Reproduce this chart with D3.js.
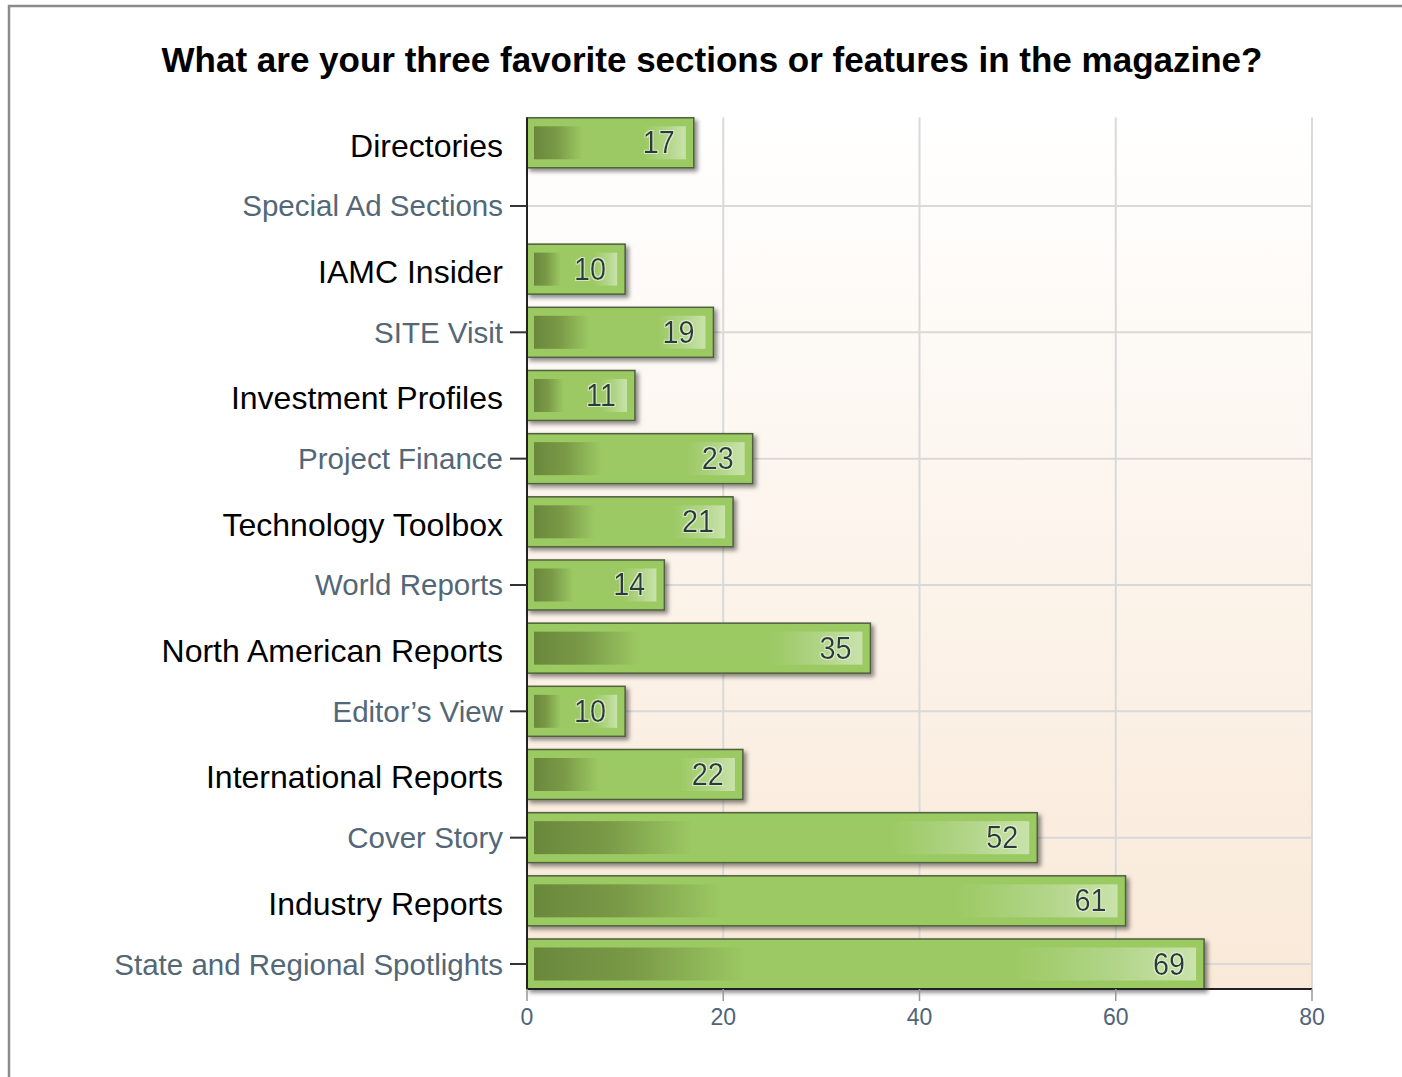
<!DOCTYPE html>
<html>
<head>
<meta charset="utf-8">
<script src="https://cdn.jsdelivr.net/npm/d3@7"></script>
<style>
  html, body { margin: 0; padding: 0; background: #ffffff; }
  svg { display: block; }
</style>
</head>
<body>
<script>
const title = "What are your three favorite sections or features in the magazine?";
const categories = [
  "Directories", "Special Ad Sections", "IAMC Insider", "SITE Visit",
  "Investment Profiles", "Project Finance", "Technology Toolbox", "World Reports",
  "North American Reports", "Editor’s View", "International Reports", "Cover Story",
  "Industry Reports", "State and Regional Spotlights"
];
const values = [17, 0, 10, 19, 11, 23, 21, 14, 35, 10, 22, 52, 61, 69];
const axisLabelled = ["Special Ad Sections", "SITE Visit", "Project Finance", "World Reports",
  "Editor’s View", "Cover Story", "State and Regional Spotlights"];
const xTicks = [0, 20, 40, 60, 80];

const W = 1402, H = 1077;
const plot = { left: 527, right: 1312, top: 117.5, bottom: 989 };

const svg = d3.select("body").append("svg").attr("width", W).attr("height", H);
const defs = svg.append("defs");

const bg = defs.append("linearGradient").attr("id", "bg").attr("x1", 0).attr("y1", 0).attr("x2", 0).attr("y2", 1);
bg.append("stop").attr("offset", 0).attr("stop-color", "#ffffff");
bg.append("stop").attr("offset", 1).attr("stop-color", "#f9e9d8");

const bar = defs.append("linearGradient").attr("id", "barg").attr("x1", 0).attr("y1", 0).attr("x2", 1).attr("y2", 0);
[[0, "#6a883c"], [0.15, "#7a9a47"], [0.32, "#9cc963"], [0.72, "#9cc963"], [0.88, "#b2d589"], [1, "#c9e3ab"]]
  .forEach(([o, c]) => bar.append("stop").attr("offset", o).attr("stop-color", c));

const sh = defs.append("filter").attr("id", "shadow").attr("x", "-5%").attr("y", "-20%").attr("width", "115%").attr("height", "150%");
sh.append("feDropShadow").attr("dx", 3).attr("dy", 3).attr("stdDeviation", 2)
  .attr("flood-color", "#000").attr("flood-opacity", 0.45);

const halo = defs.append("filter").attr("id", "halo").attr("x", "-20%").attr("y", "-20%").attr("width", "140%").attr("height", "140%");
halo.append("feMorphology").attr("in", "SourceAlpha").attr("operator", "dilate").attr("radius", 1).attr("result", "d");
halo.append("feFlood").attr("flood-color", "#e8f4dc").attr("flood-opacity", 0.7);
halo.append("feComposite").attr("in2", "d").attr("operator", "in").attr("result", "h");
const hm = halo.append("feMerge");
hm.append("feMergeNode").attr("in", "h");
hm.append("feMergeNode").attr("in", "SourceGraphic");

// outer border
svg.append("rect").attr("x", 9).attr("y", 6).attr("width", W + 20).attr("height", H + 20)
  .attr("fill", "#ffffff").attr("stroke", "#8a8a8a").attr("stroke-width", 2.5);

// title
svg.append("text").attr("x", 712).attr("y", 72).attr("text-anchor", "middle")
  .attr("font-family", "Liberation Sans, Arial, sans-serif").attr("font-weight", "bold")
  .attr("font-size", 35).attr("fill", "#000").text(title);

const x = d3.scaleLinear().domain([0, 80]).range([plot.left, plot.right]);
const y = d3.scalePoint().domain(categories).range([142.8, 964]);
const barH = 50;

// plot background
svg.append("rect").attr("x", plot.left).attr("y", plot.top)
  .attr("width", plot.right - plot.left).attr("height", plot.bottom - plot.top).attr("fill", "url(#bg)");

// vertical grid
svg.append("g").selectAll("line").data(xTicks.slice(1)).join("line")
  .attr("x1", d => x(d)).attr("x2", d => x(d)).attr("y1", plot.top).attr("y2", plot.bottom)
  .attr("stroke", "#d9d9d9").attr("stroke-width", 2);

// horizontal grid at labelled categories
svg.append("g").selectAll("line").data(axisLabelled).join("line")
  .attr("x1", plot.left).attr("x2", plot.right).attr("y1", d => y(d)).attr("y2", d => y(d))
  .attr("stroke", "#d9d9d9").attr("stroke-width", 2);

// bars
const data = categories.map((c, i) => ({ c, v: values[i] })).filter(d => d.v > 0);
const bars = svg.append("g").selectAll("g").data(data).join("g");
bars.append("rect")
  .attr("x", plot.left).attr("y", d => y(d.c) - barH / 2)
  .attr("width", d => x(d.v) - x(0)).attr("height", barH)
  .attr("fill", "#9cca62").attr("stroke", "#4f5f3f").attr("stroke-width", 1.5)
  .attr("filter", "url(#shadow)");
bars.append("rect")
  .attr("x", plot.left + 7).attr("y", d => y(d.c) - barH / 2 + 8.5)
  .attr("width", d => x(d.v) - x(0) - 15).attr("height", barH - 17)
  .attr("fill", "url(#barg)");
bars.append("text")
  .attr("transform", d => `translate(${x(d.v) - 19},${y(d.c) + 10.5}) scale(0.9,1)`)
  .attr("text-anchor", "end")
  .attr("font-family", "Liberation Sans, Arial, sans-serif").attr("font-size", 32)
  .attr("fill", "#2c3a3a").attr("filter", "url(#halo)")
  .text(d => d.v);

// axes lines
svg.append("line").attr("x1", plot.left).attr("x2", plot.left).attr("y1", plot.top).attr("y2", plot.bottom)
  .attr("stroke", "#222").attr("stroke-width", 2);
svg.append("line").attr("x1", plot.left).attr("x2", plot.right).attr("y1", plot.bottom).attr("y2", plot.bottom)
  .attr("stroke", "#222").attr("stroke-width", 2);

// x ticks
const xt = svg.append("g").selectAll("g").data(xTicks).join("g");
xt.append("line").attr("x1", d => x(d)).attr("x2", d => x(d)).attr("y1", plot.bottom).attr("y2", plot.bottom + 12)
  .attr("stroke", "#999").attr("stroke-width", 1.5);
xt.append("text").attr("x", d => x(d)).attr("y", 1025).attr("text-anchor", "middle")
  .attr("font-family", "Liberation Sans, Arial, sans-serif").attr("font-size", 23)
  .attr("fill", "#4f6478").text(d => d);

// y axis labelled categories
const yl = svg.append("g").selectAll("g").data(axisLabelled).join("g");
yl.append("line").attr("x1", 510).attr("x2", plot.left).attr("y1", d => y(d)).attr("y2", d => y(d))
  .attr("stroke", "#333").attr("stroke-width", 2);
yl.append("text").attr("x", 503).attr("y", d => y(d) + 10.5).attr("text-anchor", "end")
  .attr("font-family", "Liberation Sans, Arial, sans-serif").attr("font-size", 29.5)
  .attr("fill", "#536777").text(d => d);

// overlay (black) labels for other categories
const overlay = categories.filter(c => !axisLabelled.includes(c));
svg.append("g").selectAll("text").data(overlay).join("text")
  .attr("x", 503).attr("y", d => y(d) + 14).attr("text-anchor", "end")
  .attr("font-family", "Liberation Sans, Arial, sans-serif").attr("font-size", 32)
  .attr("fill", "#000").text(d => d);
</script>
</body>
</html>
